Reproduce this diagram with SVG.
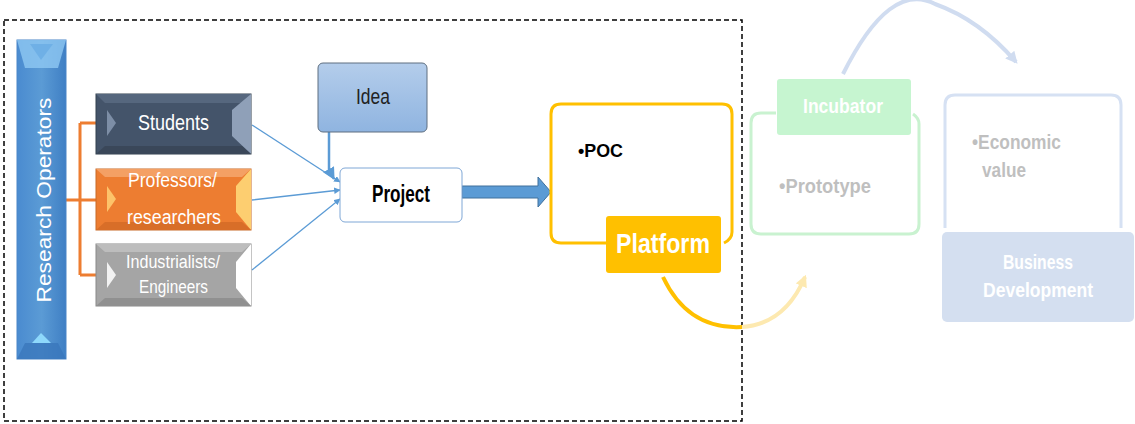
<svg xmlns="http://www.w3.org/2000/svg" width="1135" height="424" viewBox="0 0 1135 424">
<style>
.t{font-family:"Liberation Sans",Arial,sans-serif}
.w{fill:#ffffff}
.b{font-weight:bold}
.g{fill:#bfbfbf}
.blue{stroke:#5b9bd5;stroke-width:1.3;fill:none}
</style>
<defs>
<linearGradient id="bar" x1="0" y1="0" x2="1" y2="0">
<stop offset="0" stop-color="#4a8bd0"/><stop offset="0.5" stop-color="#5b9bd5"/><stop offset="1" stop-color="#3f7fc4"/>
</linearGradient>
<linearGradient id="idea" x1="0" y1="0" x2="0" y2="1">
<stop offset="0" stop-color="#b4cdeb"/><stop offset="1" stop-color="#8fb4e0"/>
</linearGradient>
<marker id="ah" viewBox="0 0 10 10" refX="9" refY="5" markerWidth="5" markerHeight="5" orient="auto">
<path d="M0,0 L10,5 L0,10 z" fill="#5b9bd5"/>
</marker>
<marker id="ahB" viewBox="0 0 10 10" refX="8" refY="5" markerWidth="3" markerHeight="3" orient="auto">
<path d="M0,0 L10,5 L0,10 z" fill="#d0dcf0"/>
</marker>
<marker id="ahY" viewBox="0 0 10 10" refX="8" refY="5" markerWidth="3" markerHeight="3" orient="auto">
<path d="M0,0 L10,5 L0,10 z" fill="#fde9b0"/>
</marker>
</defs>
<rect x="0" y="0" width="1135" height="424" fill="#ffffff"/>
<rect id="frame" x="4" y="20" width="738" height="401" fill="none" stroke="#000" stroke-width="1.5" stroke-dasharray="5,3"/>

<g id="connectors">
<path d="M66,200 H80 M80,123 V275 M80,123 H96 M80,200 H96 M80,275 H96" stroke="#ed7d31" stroke-width="3" fill="none"/>
<line class="blue" x1="252" y1="125" x2="340" y2="182" marker-end="url(#ah)"/>
<line class="blue" x1="252" y1="200" x2="340" y2="190" marker-end="url(#ah)"/>
<line class="blue" x1="252" y1="270" x2="340" y2="199" marker-end="url(#ah)"/>
<path d="M329,132 V170 L334,179" stroke="#5b9bd5" stroke-width="2.5" fill="none" marker-end="url(#ah)"/>
<path d="M462,186 H538 V177 L551,192 L538,207 V198 H462 Z" fill="#5b9bd5" stroke="#41719c" stroke-width="1"/>
<path d="M663,277 Q688,330 742,327" stroke="#ffc000" stroke-width="4" fill="none"/>
<path d="M742,327 Q785,324 805,277" stroke="#fde9b0" stroke-width="4" fill="none" marker-end="url(#ahY)"/>
<path d="M843,74 Q890,-20 935,4 Q980,20 1016,62" stroke="#d0dcf0" stroke-width="4" fill="none" marker-end="url(#ahB)"/>
</g>

<g id="research-operators">
<rect x="17" y="40" width="49" height="319" fill="url(#bar)" stroke="#4a86c8" stroke-width="1"/>
<path d="M17,40 H66 L58,68 H25 Z" fill="#8ec8f2" opacity="0.8"/>
<path d="M30,44 H53 L41,60 Z" fill="#6fb0e6"/>
<path d="M17,359 H66 L58,343 H25 Z" fill="#3a77bb" opacity="0.8"/>
<path d="M32,343 L41,333 L51,343 Z" fill="#8ed8fb"/>
<text class="t w" font-size="21" transform="translate(51,200) rotate(-90)" text-anchor="middle" textLength="205" lengthAdjust="spacingAndGlyphs">Research Operators</text>
</g>

<g id="students">
<rect x="96" y="94" width="155" height="60" fill="#44546a" stroke="#33404f"/>
<path d="M96,94 H251 L242,103 H105 Z" fill="#56677e"/>
<path d="M107,110 L116,123 L107,136 Z" fill="#7d8ea6"/>
<path d="M251,94 V154 L232,136 V110 Z" fill="#8fa0b8"/>
<path d="M96,154 H251 L242,146 H105 Z" fill="#3a4759"/>
<text class="t w" font-size="22" x="138" y="130" textLength="71" lengthAdjust="spacingAndGlyphs">Students</text>
</g>

<g id="professors">
<rect x="96" y="169" width="155" height="61" fill="#ed7d31" stroke="#c86a28"/>
<path d="M96,169 H251 L242,177 H105 Z" fill="#f4a064"/>
<path d="M107,186 L116,199 L107,212 Z" fill="#fdc36a"/>
<path d="M251,169 V230 L236,212 V186 Z" fill="#fdce70"/>
<path d="M96,230 H251 L242,222 H105 Z" fill="#d86e28"/>
<text class="t w" font-size="20" x="128" y="187" textLength="89" lengthAdjust="spacingAndGlyphs">Professors/</text>
<text class="t w" font-size="20" x="127" y="224" textLength="94" lengthAdjust="spacingAndGlyphs">researchers</text>
</g>

<g id="industrialists">
<rect x="96" y="244" width="155" height="62" fill="#a5a5a5" stroke="#8a8a8a"/>
<path d="M96,244 H251 L242,252 H105 Z" fill="#bdbdbd"/>
<path d="M107,262 L116,275 L107,288 Z" fill="#f2f2f2"/>
<path d="M251,244 V306 L236,288 V262 Z" fill="#ffffff"/>
<path d="M96,306 H251 L242,298 H105 Z" fill="#909090"/>
<text class="t w" font-size="18" x="126" y="268" textLength="94" lengthAdjust="spacingAndGlyphs">Industrialists/</text>
<text class="t w" font-size="18" x="139" y="293" textLength="69" lengthAdjust="spacingAndGlyphs">Engineers</text>
</g>

<g id="idea">
<rect x="318" y="63" width="109" height="69" rx="5" fill="url(#idea)" stroke="#5f6f80" stroke-width="1"/>
<text class="t" font-size="22" x="356" y="104" fill="#222" textLength="34" lengthAdjust="spacingAndGlyphs">Idea</text>
</g>

<g id="project">
<rect x="340" y="168" width="122" height="54" rx="5" fill="#ffffff" stroke="#7fa7d6" stroke-width="1"/>
<text class="t b" font-size="23" x="372" y="202" fill="#000" textLength="58" lengthAdjust="spacingAndGlyphs">Project</text>
</g>

<g id="poc">
<path d="M606,243 H561 Q551,243 551,233 V114 Q551,104 561,104 H722 Q732,104 732,114 V232 Q732,239 724,243" stroke="#ffc000" stroke-width="3" fill="none"/>
<text class="t b" font-size="19" x="578" y="157" fill="#000" textLength="45" lengthAdjust="spacingAndGlyphs">•POC</text>
</g>

<g id="platform">
<rect x="606" y="216" width="115" height="57" rx="3" fill="#ffc000"/>
<text class="t b w" font-size="28" x="616" y="253" textLength="94" lengthAdjust="spacingAndGlyphs">Platform</text>
</g>

<g id="prototype">
<path d="M776,113 H761 Q751,113 751,123 V224 Q751,234 761,234 H909 Q919,234 919,224 V124 Q919,118 913,114" stroke="#c9f2d0" stroke-width="3" fill="none"/>
<text class="t b g" font-size="20" x="779" y="193" textLength="92" lengthAdjust="spacingAndGlyphs">•Prototype</text>
</g>

<g id="incubator">
<rect x="777" y="79" width="134" height="56" rx="3" fill="#c6f5d0"/>
<text class="t b w" font-size="20" x="803" y="113" textLength="80" lengthAdjust="spacingAndGlyphs">Incubator</text>
</g>

<g id="economic">
<path d="M945,228 V105 Q945,95 955,95 H1111 Q1121,95 1121,105 V228" stroke="#d6e1f3" stroke-width="3" fill="none"/>
<text class="t b g" font-size="20" x="972" y="149" textLength="89" lengthAdjust="spacingAndGlyphs">•Economic</text>
<text class="t b g" font-size="20" x="982" y="177" textLength="44" lengthAdjust="spacingAndGlyphs">value</text>
</g>

<g id="business">
<rect x="942" y="232" width="192" height="90" rx="5" fill="#d4dff0"/>
<text class="t b w" font-size="20" x="1003" y="269" textLength="70" lengthAdjust="spacingAndGlyphs">Business</text>
<text class="t b w" font-size="20" x="983" y="297" textLength="110" lengthAdjust="spacingAndGlyphs">Development</text>
</g>
</svg>
